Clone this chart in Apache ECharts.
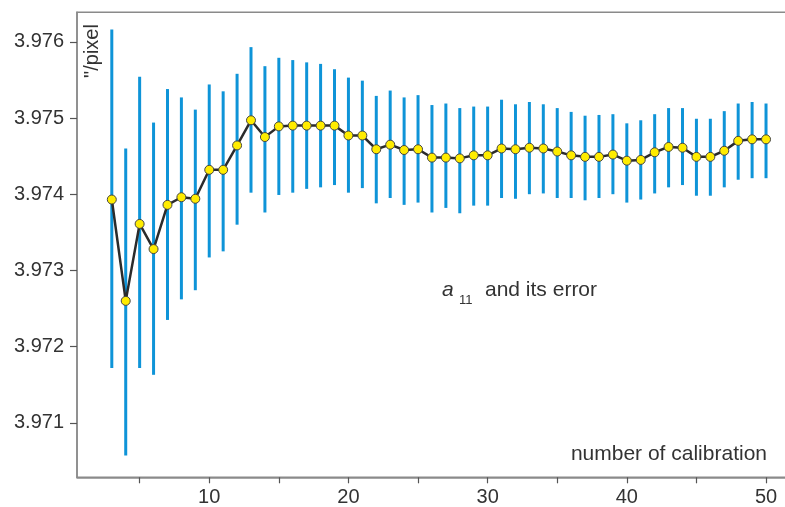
<!DOCTYPE html>
<html>
<head>
<meta charset="utf-8">
<script src="https://cdn.jsdelivr.net/npm/echarts@6/dist/echarts.min.js"></script>
<style>html,body{margin:0;padding:0;background:#fff}#c{width:785px;height:507px}</style>
</head>
<body>
<div id="c"></div>
<script>
// calibration number
var calib = [3,4,5,6,7,8,9,10,11,12,13,14,15,16,17,18,19,20,21,22,23,24,25,26,
  27,28,29,30,31,32,33,34,35,36,37,38,39,40,41,42,43,44,45,46,47,48,49,50];
// a11 value ("/pixel)
var a11 = [3.97393,3.97260,3.97361,3.97328,3.97386,3.97396,3.97394,3.97432,3.97432,3.97464,
  3.97497,3.97475,3.97489,3.97490,3.97490,3.97490,3.97490,3.97477,3.97477,3.97459,
  3.97465,3.97458,3.97459,3.97448,3.97448,3.97447,3.97451,3.97451,3.97460,3.97459,
  3.97461,3.97460,3.97456,3.97451,3.97449,3.97449,3.97452,3.97444,3.97445,3.97455,
  3.97462,3.97461,3.97449,3.97449,3.97457,3.97470,3.97472,3.97472];
// lower end of error bar
var a11Low = [3.97172,3.97057,3.97172,3.97163,3.97235,3.97262,3.97274,3.97317,3.97325,3.97360,
  3.97402,3.97376,3.97399,3.97402,3.97407,3.97409,3.97412,3.97402,3.97408,3.97388,
  3.97395,3.97386,3.97389,3.97376,3.97382,3.97375,3.97385,3.97385,3.97395,3.97394,
  3.97400,3.97401,3.97395,3.97395,3.97392,3.97395,3.97400,3.97389,3.97393,3.97401,
  3.97409,3.97412,3.97398,3.97398,3.97409,3.97419,3.97421,3.97421];
// upper end of error bar
var a11High = [3.97616,3.97460,3.97554,3.97494,3.97538,3.97527,3.97511,3.97544,3.97535,3.97558,
  3.97593,3.97568,3.97579,3.97576,3.97573,3.97571,3.97564,3.97553,3.97549,3.97529,
  3.97536,3.97527,3.97530,3.97517,3.97519,3.97513,3.97515,3.97515,3.97524,3.97518,
  3.97521,3.97518,3.97513,3.97508,3.97503,3.97504,3.97505,3.97493,3.97497,3.97505,
  3.97513,3.97513,3.97499,3.97499,3.97509,3.97519,3.97521,3.97519];
var xTicks = [5,10,15,20,25,30,35,40,45,50];
var xLabels = [10,20,30,40,50];
var yTicks = [3.971,3.972,3.973,3.974,3.975,3.976];

var chart = echarts.init(document.getElementById('c'), null, {renderer:'canvas'});
var font = '"Liberation Sans", Arial, sans-serif';
var axisColor = '#8a8a8a';
var option = {
  animation: false,
  grid: {
    left: 77, right: -20, top: 12.3, bottom: 29.7,
    containLabel: false, outerBoundsMode: 'none',
    show: true, borderColor: axisColor, borderWidth: 1.5, backgroundColor: 'transparent'
  },
  xAxis: {
    type: 'value', min: 0.5, max: 52.8,
    axisLine: {show: true, lineStyle: {color: axisColor, width: 1.5}},
    axisTick: {show: true, customValues: xTicks, length: 6, inside: false, lineStyle: {color: '#555', width: 1.2}},
    axisLabel: {customValues: xLabels, margin: 10, fontSize: 20, color: '#333', fontFamily: font},
    splitLine: {show: false}
  },
  yAxis: {
    type: 'value', min: 3.970285, max: 3.976387,
    axisLine: {show: true, lineStyle: {color: axisColor, width: 1.5}},
    axisTick: {show: true, customValues: yTicks, length: 7, inside: false, lineStyle: {color: '#555', width: 1.2}},
    axisLabel: {customValues: yTicks, margin: 13, fontSize: 20, color: '#333', fontFamily: font,
      formatter: function (v) { return (+v).toFixed(3); }},
    splitLine: {show: false}
  },
  series: [
    {
      type: 'custom',
      data: calib.map(function (x, i) { return [x, a11Low[i], a11High[i]]; }),
      encode: {x: 0, y: [1, 2]},
      z: 1,
      renderItem: function (params, api) {
        var x = api.value(0);
        var lo = api.coord([x, api.value(1)]);
        var hi = api.coord([x, api.value(2)]);
        return {
          type: 'line',
          shape: {x1: lo[0], y1: lo[1], x2: hi[0], y2: hi[1]},
          style: {stroke: '#0e94d8', lineWidth: 3}
        };
      }
    },
    {
      type: 'line',
      data: calib.map(function (x, i) { return [x, a11[i]]; }),
      z: 3,
      lineStyle: {color: '#2b2b2b', width: 2.5},
      symbol: 'circle', symbolSize: 9,
      itemStyle: {color: '#ffec00', borderColor: '#444', borderWidth: 1}
    }
  ],
  graphic: [
    {type: 'text', x: 92, y: 51, rotation: Math.PI / 2,
      style: {text: '"/pixel', fontSize: 20, fontFamily: font, fill: '#333', align: 'center', verticalAlign: 'middle'}},
    {type: 'text', x: 767, y: 454.5,
      style: {text: 'number of calibration', fontSize: 21, fontFamily: font, fill: '#333', align: 'right', verticalAlign: 'middle'}},
    {type: 'text', x: 442, y: 290,
      style: {text: 'a', fontSize: 21, fontStyle: 'italic', fontFamily: font, fill: '#333', align: 'left', verticalAlign: 'middle'}},
    {type: 'text', x: 459, y: 300.5,
      style: {text: '11', fontSize: 13, fontFamily: font, fill: '#333', align: 'left', verticalAlign: 'middle'}},
    {type: 'text', x: 485, y: 290,
      style: {text: 'and its error', fontSize: 21, fontFamily: font, fill: '#333', align: 'left', verticalAlign: 'middle'}}
  ]
};
chart.setOption(option);
</script>
</body>
</html>
